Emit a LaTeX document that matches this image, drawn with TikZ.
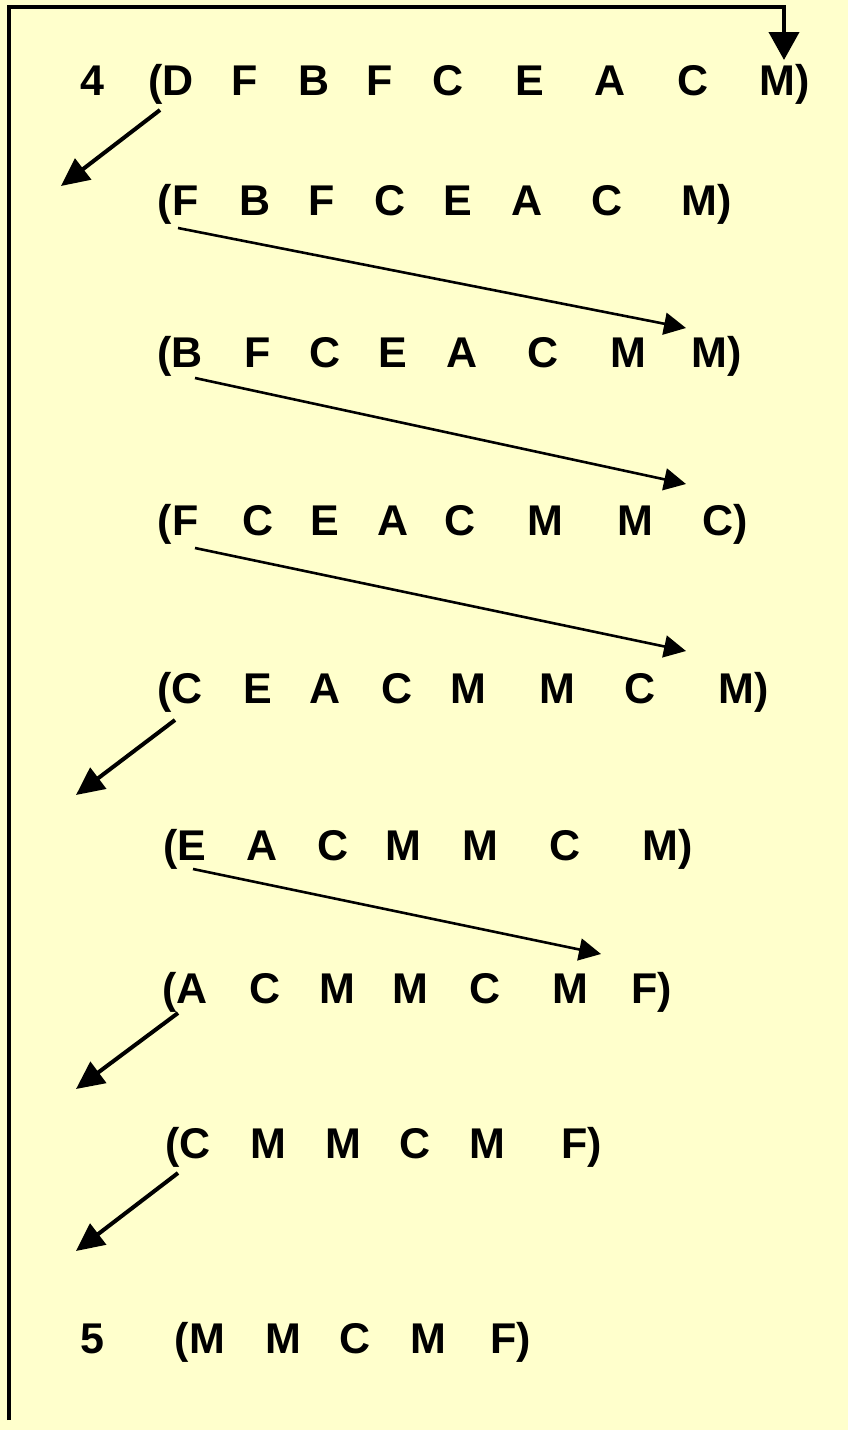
\documentclass[tikz,border=0pt]{standalone}
\usepackage{fontspec}
\setmainfont{Liberation Sans}
\usetikzlibrary{arrows.meta}
\definecolor{bg}{RGB}{255,255,204}
\begin{document}
\begin{tikzpicture}[x=1pt,y=-1pt,
  ch/.style={font=\fontsize{43}{43}\selectfont\bfseries, inner sep=0pt, anchor=base},
  bigarrow/.style={line width=4pt, -{Triangle[length=28pt,width=26pt]}},
  longarrow/.style={line width=2.6pt, -{Triangle[length=22pt,width=22pt]}},
  bracket/.style={line width=4pt, -{Triangle[length=28pt,width=30pt]}}]
\fill[bg] (0,0) rectangle (848,1430);
\useasboundingbox (0,0) rectangle (848,1430);
% row 1
\node[ch] (r1n) at (92,95) {4};
\node[ch] (r1a) at (171,95) {(D};
\node[ch] (r1b) at (245,95) {F};
\node[ch] (r1c) at (314,95) {B};
\node[ch] (r1d) at (380,95) {F};
\node[ch] (r1e) at (448,95) {C};
\node[ch] (r1f) at (530,95) {E};
\node[ch] (r1g) at (610,95) {A};
\node[ch] (r1h) at (693,95) {C};
\node[ch] (r1i) at (785,95) {M)};
% row 2
\node[ch] (r2a) at (178,215) {(F};
\node[ch] (r2b) at (255,215) {B};
\node[ch] (r2c) at (322,215) {F};
\node[ch] (r2d) at (390,215) {C};
\node[ch] (r2e) at (458,215) {E};
\node[ch] (r2f) at (527,215) {A};
\node[ch] (r2g) at (607,215) {C};
\node[ch] (r2h) at (707,215) {M)};
% row 3
\node[ch] (r3a) at (180,367) {(B};
\node[ch] (r3b) at (258,367) {F};
\node[ch] (r3c) at (325,367) {C};
\node[ch] (r3d) at (393,367) {E};
\node[ch] (r3e) at (462,367) {A};
\node[ch] (r3f) at (543,367) {C};
\node[ch] (r3g) at (628,367) {M};
\node[ch] (r3h) at (717,367) {M)};
% row 4
\node[ch] (r4a) at (178,535) {(F};
\node[ch] (r4b) at (258,535) {C};
\node[ch] (r4c) at (325,535) {E};
\node[ch] (r4d) at (393,535) {A};
\node[ch] (r4e) at (460,535) {C};
\node[ch] (r4f) at (545,535) {M};
\node[ch] (r4g) at (635,535) {M};
\node[ch] (r4h) at (725,535) {C)};
% row 5
\node[ch] (r5a) at (180,703) {(C};
\node[ch] (r5b) at (258,703) {E};
\node[ch] (r5c) at (325,703) {A};
\node[ch] (r5d) at (397,703) {C};
\node[ch] (r5e) at (468,703) {M};
\node[ch] (r5f) at (557,703) {M};
\node[ch] (r5g) at (640,703) {C};
\node[ch] (r5h) at (744,703) {M)};
% row 6
\node[ch] (r6a) at (185,860) {(E};
\node[ch] (r6b) at (262,860) {A};
\node[ch] (r6c) at (333,860) {C};
\node[ch] (r6d) at (403,860) {M};
\node[ch] (r6e) at (480,860) {M};
\node[ch] (r6f) at (565,860) {C};
\node[ch] (r6g) at (668,860) {M)};
% row 7
\node[ch] (r7a) at (185,1003) {(A};
\node[ch] (r7b) at (265,1003) {C};
\node[ch] (r7c) at (337,1003) {M};
\node[ch] (r7d) at (410,1003) {M};
\node[ch] (r7e) at (485,1003) {C};
\node[ch] (r7f) at (570,1003) {M};
\node[ch] (r7g) at (652,1003) {F)};
% row 8
\node[ch] (r8a) at (188,1158) {(C};
\node[ch] (r8b) at (268,1158) {M};
\node[ch] (r8c) at (343,1158) {M};
\node[ch] (r8d) at (415,1158) {C};
\node[ch] (r8e) at (487,1158) {M};
\node[ch] (r8f) at (582,1158) {F)};
% row 9
\node[ch] (r9n) at (92,1353) {5};
\node[ch] (r9a) at (200,1353) {(M};
\node[ch] (r9b) at (283,1353) {M};
\node[ch] (r9c) at (355,1353) {C};
\node[ch] (r9d) at (428,1353) {M};
\node[ch] (r9e) at (511,1353) {F)};
% arrow end points
\coordinate (s1) at (160,110);  \coordinate (e1) at (61,186);
\coordinate (s2) at (178,228);  \coordinate (e2) at (686,328);
\coordinate (s3) at (195,378);  \coordinate (e3) at (686,484);
\coordinate (s4) at (195,548);  \coordinate (e4) at (686,651);
\coordinate (s5) at (175,720);  \coordinate (e5) at (76,795);
\coordinate (s6) at (193,869);  \coordinate (e6) at (601,954);
\coordinate (s7) at (178,1013); \coordinate (e7) at (76,1089);
\coordinate (s8) at (178,1173); \coordinate (e8) at (76,1251);
\coordinate (b0) at (9,1420);   \coordinate (b1) at (9,7);
\coordinate (b2) at (784,7);    \coordinate (b3) at (784,60);
\draw[bigarrow] (s1) -- (e1);
\draw[longarrow] (s2) -- (e2);
\draw[longarrow] (s3) -- (e3);
\draw[longarrow] (s4) -- (e4);
\draw[bigarrow] (s5) -- (e5);
\draw[longarrow] (s6) -- (e6);
\draw[bigarrow] (s7) -- (e7);
\draw[bigarrow] (s8) -- (e8);
\draw[bracket] (b0) -- (b1) -- (b2) -- (b3);
\end{tikzpicture}
\end{document}
